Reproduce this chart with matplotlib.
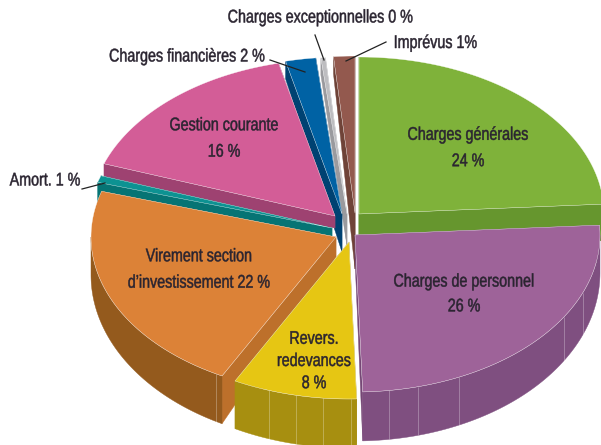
import numpy as np
import matplotlib
matplotlib.use("Agg")
import matplotlib.pyplot as plt
from matplotlib.patches import Polygon
from matplotlib.patheffects import AbstractPathEffect
from matplotlib.transforms import Affine2D

# Values (percent, clockwise from 12 o'clock)
names = ["Charges générales", "Charges de personnel", "Revers. redevances",
         "Virement section d'investissement", "Amort.", "Gestion courante",
         "Charges financières", "Charges exceptionnelles", "Imprévus"]
values = [24.0, 25.5, 8.2, 22.0, 0.7, 15.9, 2.0, 0.3, 1.4]

# Style
top_colors = ["#7FB23A", "#9E6399", "#E6C613", "#DC8237", "#0D9292", "#D35D97", "#0062A4", "#BDBDC0", "#93594E"]
side_colors = ["#66962E", "#7F4F80", "#A78F10", "#945A1D", "#067474", "#9E4271", "#004272", "#8E8E92", "#6F4338"]
cut_colors = ["#66962E", "#754775", "#A78F10", "#BD702B", "#067474", "#9E4271", "#004272", "#9A9A9E", "#6F4338"]
apex_x = [359, 355, 349, 336, 332, 335, 342, 347, 355]
apex_y = [214, 235, 242, 237, 228, 216, 214, 214, 213]
apex_t = [24, 24, 24, 20, 8, 12, 38, 32, 56]
draw_order = [8, 7, 6, 5, 4, 3, 0, 1, 2]
seams = {1: [172, 165, 155, 121.5, 111.5], 2: [199, 192.5, 186, 179.5], 3: [209.2]}
RX, RY = 245, 157

FONT = "Liberation Sans"
TXT = "#2A2430"
SQUEEZE = 0.78

fig = plt.figure(figsize=(6.01, 4.45), dpi=100, facecolor="white")
ax = fig.add_axes([0, 0, 1, 1])
ax.set_xlim(0, 601)
ax.set_ylim(445, 0)
ax.axis("off")


class Condense(AbstractPathEffect):
    """Draw the text narrower around its anchor (the reference font is condensed)."""

    def __init__(self, x_display, factor, stroke=0.35):
        super().__init__()
        self.squeeze = Affine2D().translate(-x_display, 0).scale(factor, 1).translate(x_display, 0)
        self.stroke = stroke

    def draw_path(self, renderer, gc, tpath, affine, rgbFace=None):
        gc0 = renderer.new_gc()
        gc0.copy_properties(gc)
        gc0.set_linewidth(self.stroke)
        gc0.set_foreground(TXT)
        renderer.draw_path(gc0, tpath, affine + self.squeeze, rgbFace)
        gc0.restore()


def rim(i, th):
    r = np.radians(th)
    return apex_x[i] + RX * np.sin(r), apex_y[i] - RY * np.cos(r)


def thick(th):
    c = np.cos(np.radians(th))
    return np.where(c < 0, 38 - 11 * c, 38 - 21 * c)


edges = np.concatenate([[0], np.cumsum(values)]) * 3.6

z = 1
for i in draw_order:
    a, b = edges[i], edges[i + 1]
    cx, cy = apex_x[i], apex_y[i]
    for th in (a, b):
        x, y = rim(i, th)
        ax.add_patch(Polygon([(cx, cy), (x, y), (x, y + thick(th)), (cx, cy + apex_t[i])],
                             closed=True, fc=cut_colors[i], ec=cut_colors[i], lw=0.3, zorder=z))
    lo, hi = max(a, 90), min(b, 270)
    if hi > lo:
        th = np.linspace(lo, hi, 80)
        x, y = rim(i, th)
        t = thick(th)
        pts = np.r_[np.c_[x, y], np.c_[x, y + t][::-1]]
        ax.add_patch(Polygon(pts, closed=True, fc=side_colors[i], ec=side_colors[i], lw=0.3, zorder=z))
        for s in seams.get(i, []):
            sx, sy = rim(i, s)
            ax.plot([sx, sx], [sy, sy + thick(s)], color="white", alpha=0.28, lw=0.7,
                    solid_capstyle="butt", zorder=z)
    th = np.linspace(a, b, 120)
    x, y = rim(i, th)
    pts = np.r_[[(cx, cy)], np.c_[x, y]]
    ax.add_patch(Polygon(pts, closed=True, fc=top_colors[i], ec="white", lw=0.25,
                         joinstyle="round", zorder=z))
    z += 1

label_size = 13.2
# text, x, y, line spacing
labels = [
    ("Charges générales\n24 %", 468, 148.5, 1.72),
    ("Charges de personnel\n26 %", 464, 294.5, 1.6),
    ("Revers.\nredevances\n8 %", 314, 361.5, 1.4),
    ("Virement section\nd’investissement 22 %", 199, 270, 1.72),
    ("Gestion courante\n16 %", 224, 139, 1.72),
    ("Charges exceptionnelles 0 %", 320.5, 18, 1.2),
    ("Imprévus 1%", 435.5, 43.5, 1.2),
    ("Charges financières 2 %", 187, 57, 1.2),
    ("Amort. 1 %", 45, 181, 1.2),
]
for s, x, y, ls in labels:
    t = ax.text(x, y, s, ha="center", va="center", fontsize=label_size, family=FONT, color=TXT,
                linespacing=ls, zorder=50)
    t.set_path_effects([Condense(ax.transData.transform((x, y))[0], SQUEEZE)])

leader_x = [(315, 324), (386, 346), (270, 305), (82, 105)]
leader_y = [(35, 60), (42, 61), (60, 72), (189, 183)]
for lx, ly in zip(leader_x, leader_y):
    ax.plot(lx, ly, color="#222222", lw=0.9, zorder=60)

fig.savefig("out.png", dpi=100)
